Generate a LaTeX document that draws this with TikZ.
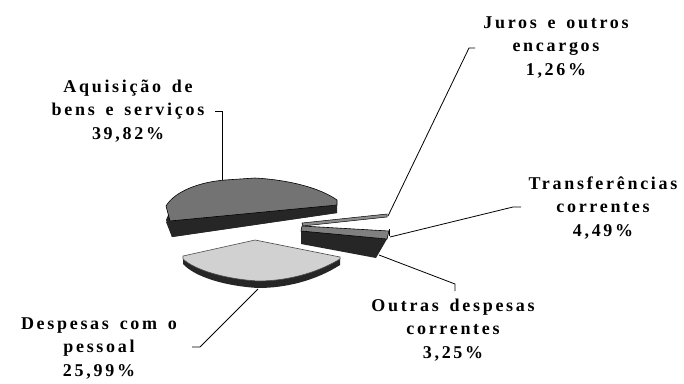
\documentclass[tikz,border=0pt]{standalone}
\usepackage{fontspec}
\setmainfont{Liberation Serif}
\newfontfamily\lblfont{Liberation Serif Bold}[LetterSpace=15,WordSpace=1.5]
\begin{document}
\begin{tikzpicture}[x=1pt,y=-1pt,
  lbl/.style={align=center,inner sep=0pt,font=\lblfont\fontsize{18}{23.5}\selectfont},
  leader/.style={draw=black,line width=0.8pt},
  side/.style={fill=black!85},
  topdark/.style={fill=black!55,draw=black,line width=0.6pt},
  toplight/.style={fill=black!18,draw=black!70,line width=0.6pt}]
\useasboundingbox (0,0) rectangle (684,383);

% --- Aquisicao de bens e servicos (dark, top-left)
\fill[side] (166,220) .. controls (175,195) and (200,194) .. (225,194) -- (255,192)
  .. controls (290,194) and (320,202) .. (337,213) -- (172,237) -- cycle;
\fill[side] (170,221) -- (337,205) -- (337,213) -- (172,237) -- (166,222) -- cycle;
\path[topdark] (166,206) .. controls (175,191) and (200,182) .. (225,180) -- (255,178)
  .. controls (290,180) and (320,188) .. (337,200) -- (337,205) -- (170,221) -- cycle;

% --- Despesas com o pessoal (light, bottom-left)
\fill[side] (183,264) -- (340,265) .. controls (315,281) and (285,288) .. (258,288)
  .. controls (225,286) and (195,277) .. (183,264) -- cycle;
\fill[side] (183,258) -- (340,258) -- (340,265) -- (183,264) -- cycle;
\path[toplight] (183,256) -- (255,240) -- (340,257) -- (340,259)
  .. controls (315,274) and (285,281) .. (258,281)
  .. controls (225,279) and (195,270) .. (183,259) -- cycle;

% --- Juros e outros encargos (thin sliver)
\path[fill=black!45,draw=black,line width=0.5pt] (302,223) -- (387,214) -- (387,217) -- (303,226) -- cycle;

% --- Transferencias correntes / Outras despesas correntes (small slab)
\fill[side] (301,230) -- (387,239) -- (376,258) -- (301,244) -- cycle;
\path[fill=black!50,draw=black,line width=0.6pt] (302,226) -- (389,231) -- (387,239) -- (301,231) -- cycle;
\draw[line width=0.8pt] (389,229) -- (389,236);

% --- labels
\node[lbl] (aq) at (128,111) {Aquisição de\\bens e serviços\\39,82\%};
\node[lbl] (ju) at (556,47) {Juros e outros\\encargos\\1,26\%};
\node[lbl] (tr) at (603,208) {Transferências\\correntes\\4,49\%};
\node[lbl] (ou) at (453,330) {Outras despesas\\correntes\\3,25\%};
\node[lbl] (de) at (99,348) {Despesas com o\\pessoal\\25,99\%};

% --- leader anchors
\coordinate (aqA) at (215,111); \coordinate (aqB) at (222,111); \coordinate (aqP) at (222,180);
\coordinate (juA) at (475,48); \coordinate (juB) at (469,48); \coordinate (juP) at (388,216);
\coordinate (trA) at (521,207); \coordinate (trB) at (513,207); \coordinate (trP) at (390,237);
\coordinate (ouA) at (455,291); \coordinate (ouB) at (455,284); \coordinate (ouP) at (379,255);
\coordinate (deA) at (192,347); \coordinate (deB) at (200,347); \coordinate (deP) at (258,289);

\draw[leader] (aqA) -- (aqB) -- (aqP);
\draw[leader] (juA) -- (juB) -- (juP);
\draw[leader] (trA) -- (trB) -- (trP);
\draw[leader] (ouA) -- (ouB) -- (ouP);
\draw[leader] (deA) -- (deB) -- (deP);
\end{tikzpicture}
\end{document}
